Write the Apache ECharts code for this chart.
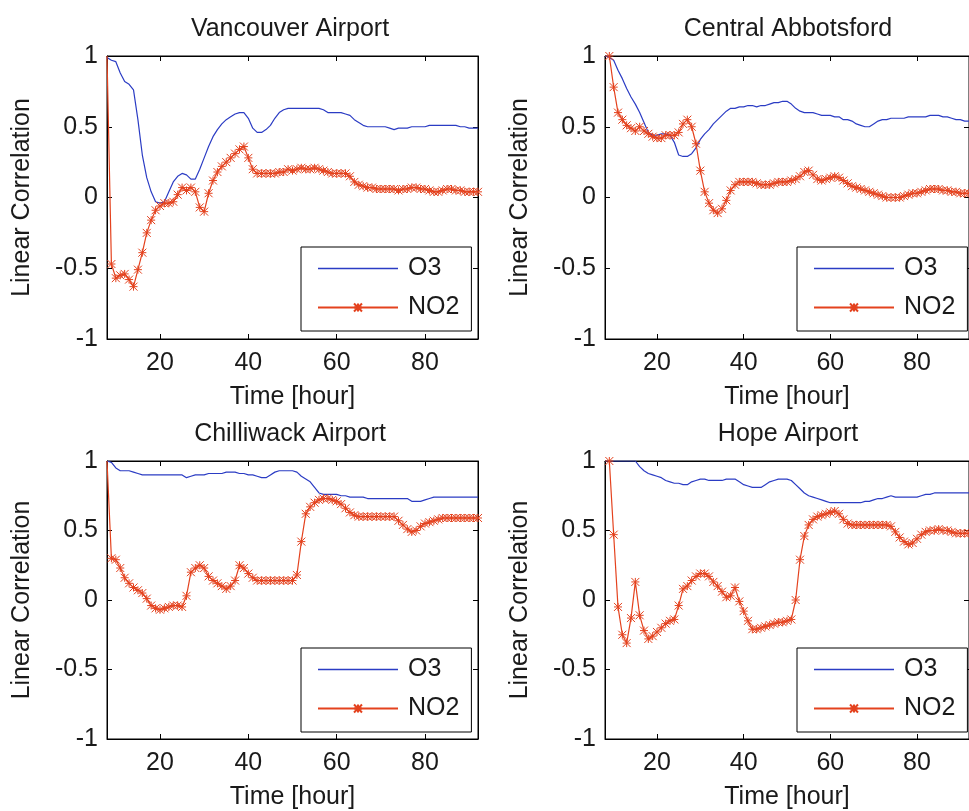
<!DOCTYPE html>
<html>
<head>
<meta charset="utf-8">
<script src="https://cdn.jsdelivr.net/npm/echarts@6/dist/echarts.min.js"></script>
<style>
html,body{margin:0;padding:0;background:#fff;}
#chart{width:969px;height:811px;}
</style>
</head>
<body>
<div id="chart"></div>
<script>
// ---------- data ----------
const hours = [8,9,10,11,12,13,14,15,16,17,18,19,20,21,22,23,24,25,26,27,28,29,30,31,32,33,34,35,36,37,38,39,40,41,42,43,44,45,46,47,48,49,50,51,52,53,54,55,56,57,58,59,60,61,62,63,64,65,66,67,68,69,70,71,72,73,74,75,76,77,78,79,80,81,82,83,84,85,86,87,88,89,90,91,92];
const panelTitles = ['Vancouver Airport','Central Abbotsford','Chilliwack Airport','Hope Airport'];
const seriesNames = ['O3','NO2'];
const xTickValues = [20,40,60,80];
const xAxisTitle = 'Time [hour]';
const yAxisTitle = 'Linear Correlation';

const vanO3 = [0.99,0.97,0.96,0.88,0.82,0.80,0.76,0.55,0.30,0.14,0.04,-0.03,-0.04,-0.03,0.04,0.11,0.15,0.17,0.16,0.13,0.13,0.20,0.28,0.36,0.43,0.48,0.52,0.55,0.57,0.59,0.60,0.60,0.56,0.49,0.46,0.46,0.48,0.51,0.56,0.60,0.62,0.63,0.63,0.63,0.63,0.63,0.63,0.63,0.63,0.62,0.60,0.60,0.60,0.60,0.59,0.58,0.55,0.53,0.51,0.50,0.50,0.50,0.50,0.50,0.49,0.48,0.49,0.49,0.49,0.50,0.50,0.50,0.50,0.51,0.51,0.51,0.51,0.51,0.51,0.51,0.50,0.50,0.49,0.49,0.49];
const vanNO2 = [1.00,-0.47,-0.57,-0.55,-0.54,-0.58,-0.63,-0.51,-0.39,-0.25,-0.16,-0.09,-0.06,-0.04,-0.04,-0.03,0.02,0.07,0.05,0.07,0.04,-0.07,-0.10,0.03,0.12,0.18,0.22,0.25,0.28,0.31,0.34,0.36,0.28,0.20,0.17,0.17,0.17,0.17,0.17,0.18,0.18,0.20,0.19,0.20,0.21,0.20,0.20,0.21,0.20,0.19,0.18,0.17,0.17,0.17,0.17,0.15,0.11,0.09,0.08,0.07,0.07,0.06,0.06,0.06,0.06,0.06,0.05,0.06,0.06,0.07,0.07,0.06,0.06,0.05,0.04,0.04,0.05,0.06,0.06,0.05,0.05,0.04,0.04,0.04,0.04];

const abbO3 = [1.00,0.99,0.97,0.90,0.84,0.77,0.71,0.66,0.60,0.53,0.46,0.44,0.44,0.45,0.45,0.44,0.39,0.30,0.29,0.29,0.31,0.35,0.41,0.45,0.48,0.52,0.55,0.58,0.61,0.63,0.63,0.64,0.64,0.65,0.65,0.64,0.65,0.65,0.66,0.67,0.67,0.68,0.68,0.66,0.63,0.61,0.60,0.60,0.60,0.59,0.58,0.58,0.58,0.57,0.57,0.55,0.55,0.54,0.52,0.51,0.50,0.50,0.52,0.54,0.55,0.55,0.56,0.56,0.56,0.56,0.57,0.57,0.57,0.57,0.57,0.58,0.58,0.58,0.57,0.57,0.56,0.55,0.55,0.54,0.54];
const abbNO2 = [null,1.00,0.78,0.60,0.55,0.51,0.49,0.47,0.50,0.47,0.45,0.43,0.42,0.42,0.44,0.44,0.44,0.46,0.52,0.55,0.50,0.38,0.19,0.04,-0.04,-0.09,-0.11,-0.08,-0.02,0.05,0.09,0.11,0.11,0.11,0.11,0.10,0.09,0.09,0.09,0.10,0.11,0.11,0.11,0.12,0.13,0.15,0.18,0.19,0.16,0.13,0.12,0.13,0.14,0.15,0.14,0.12,0.10,0.08,0.07,0.06,0.05,0.04,0.03,0.02,0.01,0.00,0.00,0.00,0.00,0.01,0.02,0.03,0.03,0.04,0.05,0.06,0.06,0.06,0.05,0.05,0.04,0.04,0.03,0.03,0.03];

const chiO3 = [1.00,0.99,0.95,0.93,0.93,0.93,0.92,0.91,0.90,0.90,0.90,0.90,0.90,0.90,0.90,0.90,0.90,0.90,0.88,0.89,0.90,0.90,0.90,0.91,0.91,0.91,0.91,0.92,0.92,0.92,0.91,0.91,0.90,0.90,0.89,0.88,0.88,0.90,0.92,0.93,0.93,0.93,0.93,0.92,0.89,0.87,0.85,0.81,0.77,0.76,0.76,0.76,0.76,0.75,0.75,0.74,0.74,0.74,0.74,0.73,0.73,0.73,0.73,0.73,0.73,0.73,0.73,0.73,0.73,0.71,0.71,0.71,0.72,0.73,0.74,0.74,0.74,0.74,0.74,0.74,0.74,0.74,0.74,0.74,0.74];
const chiNO2 = [1.00,0.30,0.29,0.23,0.16,0.12,0.09,0.07,0.05,0.01,-0.04,-0.06,-0.07,-0.06,-0.05,-0.04,-0.04,-0.05,0.03,0.20,0.23,0.25,0.23,0.17,0.14,0.12,0.10,0.08,0.10,0.14,0.25,0.23,0.19,0.16,0.14,0.14,0.14,0.14,0.14,0.14,0.14,0.14,0.14,0.18,0.42,0.62,0.67,0.70,0.72,0.73,0.73,0.72,0.71,0.69,0.66,0.63,0.61,0.60,0.60,0.60,0.60,0.60,0.60,0.60,0.60,0.60,0.57,0.54,0.51,0.49,0.50,0.53,0.55,0.56,0.57,0.58,0.59,0.59,0.59,0.59,0.59,0.59,0.59,0.59,0.59];

const hopeO3 = [1.00,1.00,1.00,1.00,1.00,1.00,1.00,1.00,0.96,0.93,0.91,0.90,0.89,0.88,0.86,0.85,0.84,0.84,0.83,0.83,0.85,0.86,0.87,0.87,0.86,0.86,0.86,0.86,0.87,0.87,0.87,0.85,0.83,0.82,0.81,0.81,0.81,0.83,0.85,0.86,0.87,0.87,0.87,0.86,0.83,0.80,0.77,0.75,0.74,0.73,0.72,0.71,0.70,0.70,0.70,0.70,0.70,0.70,0.70,0.70,0.71,0.71,0.72,0.73,0.73,0.74,0.75,0.74,0.74,0.74,0.74,0.74,0.74,0.75,0.76,0.76,0.77,0.77,0.77,0.77,0.77,0.77,0.77,0.77,0.77];
const hopeNO2 = [null,1.00,0.47,-0.05,-0.25,-0.31,-0.13,0.13,-0.11,-0.22,-0.28,-0.26,-0.23,-0.20,-0.17,-0.15,-0.14,-0.04,0.08,0.10,0.14,0.17,0.19,0.19,0.17,0.13,0.10,0.06,0.02,0.03,0.09,-0.01,-0.08,-0.15,-0.21,-0.21,-0.20,-0.19,-0.18,-0.17,-0.16,-0.16,-0.15,-0.14,0.00,0.29,0.46,0.54,0.58,0.60,0.61,0.62,0.63,0.64,0.62,0.58,0.55,0.54,0.54,0.54,0.54,0.54,0.54,0.54,0.54,0.54,0.53,0.49,0.45,0.42,0.40,0.41,0.44,0.47,0.49,0.50,0.50,0.51,0.50,0.50,0.49,0.48,0.48,0.48,0.48];

const panelData = [[vanO3, vanNO2], [abbO3, abbNO2], [chiO3, chiNO2], [hopeO3, hopeNO2]];

// ---------- layout / style ----------
const FONT = '"Liberation Sans", Arial, Helvetica, sans-serif';
const TXT = '#1a1a1a';
const BLUE = '#2b3cc4';
const RED = '#e4421e';
const FS = 25;
const grids = [
  {left:107, top:56, width:371, height:283},
  {left:605, top:56, width:369, height:283},
  {left:107, top:461, width:371, height:281},
  {left:605, top:461, width:369, height:281}
];
const legendPos = [
  {left:301, top:247}, {left:797, top:247}, {left:301, top:648}, {left:797, top:648}
];
const titlePos = [
  {left:290, top:17}, {left:788, top:17}, {left:290, top:422}, {left:788, top:422}
];
const STAR = 'path://M0,0L10,10M10,0L0,10M5,0L5,10M0,5L10,5';
const LINE_ICON = 'path://M0,0H80V1.3H0Z';

const option = {
  backgroundColor:'#fff',
  animation:false,
  textStyle:{fontFamily:FONT},
  title: panelTitles.map((t,i)=>({
    text:t, left:titlePos[i].left, top:titlePos[i].top, textAlign:'center', padding:0,
    textStyle:{fontFamily:FONT, fontSize:FS, fontWeight:'normal', color:TXT}
  })),
  grid: grids.map(g=>({left:g.left, top:g.top, width:g.width, height:g.height, show:true, borderColor:'#000', borderWidth:1, backgroundColor:'#fff'})),
  legend: legendPos.map(p=>({
    left:p.left, top:p.top, orient:'vertical',
    data:[{name:seriesNames[0], icon:LINE_ICON, itemStyle:{color:BLUE}}, seriesNames[1]],
    backgroundColor:'#fff', borderColor:'#000', borderWidth:1, borderRadius:0,
    padding:[9,12,11,16], itemWidth:80, itemHeight:10, itemGap:14,
    selectedMode:false,
    textStyle:{fontFamily:FONT, fontSize:FS, color:TXT, padding:[0,0,0,5]}
  })),
  xAxis: [],
  yAxis: [],
  series: []
};

grids.forEach((g,i)=>{
  const axLine = {show:true, onZero:false, lineStyle:{color:'#000', width:1}};
  option.xAxis.push({
    gridIndex:i, type:'value', min:8, max:92, position:'bottom',
    axisLine:axLine,
    axisTick:{show:true, inside:true, length:5, customValues:xTickValues, lineStyle:{color:'#000'}},
    axisLabel:{show:true, customValues:xTickValues, fontSize:FS, color:TXT, margin:12, fontFamily:FONT},
    splitLine:{show:false},
    name:xAxisTitle, nameLocation:'middle', nameGap:46,
    nameTextStyle:{fontSize:FS, color:TXT, fontFamily:FONT}
  });
  option.xAxis.push({
    gridIndex:i, type:'value', min:8, max:92, position:'top',
    axisLine:axLine,
    axisTick:{show:true, inside:true, length:5, customValues:xTickValues, lineStyle:{color:'#000'}},
    axisLabel:{show:false}, splitLine:{show:false}
  });
  option.yAxis.push({
    gridIndex:i, type:'value', min:-1, max:1, interval:0.5, position:'left',
    axisLine:axLine,
    axisTick:{show:true, inside:true, length:5, lineStyle:{color:'#000'}},
    axisLabel:{show:true, fontSize:FS, color:TXT, margin:9, fontFamily:FONT},
    splitLine:{show:false},
    name:yAxisTitle, nameLocation:'middle', nameGap:72,
    nameTextStyle:{fontSize:FS, color:TXT, fontFamily:FONT}
  });
  option.yAxis.push({
    gridIndex:i, type:'value', min:-1, max:1, interval:0.5, position:'right',
    axisLine:axLine,
    axisTick:{show:true, inside:true, length:5, lineStyle:{color:'#000'}},
    axisLabel:{show:false}, splitLine:{show:false}
  });

  const [o3, no2] = panelData[i];
  const o3Data = [];
  hours.forEach((h,k)=>{ if (o3[k] !== null) o3Data.push([h, o3[k]]); });
  const no2Data = [];
  hours.forEach((h,k)=>{
    if (no2[k] === null) return;
    const item = {value:[h, no2[k]]};
    if (h === 8) item.symbol = 'none';
    no2Data.push(item);
  });
  option.series.push({
    name:'O3', type:'line', xAxisIndex:i*2, yAxisIndex:i*2, data:o3Data,
    symbol:'none', color:BLUE, lineStyle:{color:BLUE, width:1.2}, z:3
  });
  option.series.push({
    name:'NO2', type:'line', xAxisIndex:i*2, yAxisIndex:i*2, data:no2Data,
    symbol:STAR, symbolSize:8, showAllSymbol:true, color:RED,
    lineStyle:{color:RED, width:1.2},
    itemStyle:{color:'none', borderColor:RED, borderWidth:1}, z:4
  });
});

const chart = echarts.init(document.getElementById('chart'), null, {renderer:'canvas'});
chart.setOption(option);
</script>
</body>
</html>
